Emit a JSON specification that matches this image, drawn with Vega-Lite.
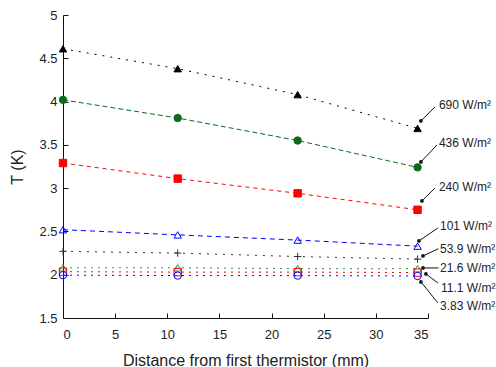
{
 "$schema": "https://vega.github.io/schema/vega-lite/v6.json",
 "width": 365,
 "height": 303,
 "autosize": {"type": "none"},
 "padding": {"left": 63, "top": 15, "right": 68, "bottom": 49},
 "background": "white",
 "config": {
  "view": {"stroke": null},
  "font": "Liberation Sans",
  "axis": {"grid": false, "labelFont": "Liberation Sans", "labelFontSize": 13, "labelColor": "#222", "domainColor": "#111", "tickColor": "#111", "titleFont": "Liberation Sans", "titleFontSize": 16, "titleFontWeight": "normal", "titleColor": "#222", "tickSize": -5}
 },
 "datasets": {
  "pts": [
   {"s": "690", "x": 0, "T": 4.61}, {"s": "690", "x": 11, "T": 4.38}, {"s": "690", "x": 22.5, "T": 4.08}, {"s": "690", "x": 34, "T": 3.69},
   {"s": "436", "x": 0, "T": 4.02}, {"s": "436", "x": 11, "T": 3.81}, {"s": "436", "x": 22.5, "T": 3.55}, {"s": "436", "x": 34, "T": 3.24},
   {"s": "240", "x": 0, "T": 3.29}, {"s": "240", "x": 11, "T": 3.11}, {"s": "240", "x": 22.5, "T": 2.94}, {"s": "240", "x": 34, "T": 2.75},
   {"s": "101", "x": 0, "T": 2.52}, {"s": "101", "x": 11, "T": 2.46}, {"s": "101", "x": 22.5, "T": 2.40}, {"s": "101", "x": 34, "T": 2.33},
   {"s": "53.9", "x": 0, "T": 2.27}, {"s": "53.9", "x": 11, "T": 2.25}, {"s": "53.9", "x": 22.5, "T": 2.21}, {"s": "53.9", "x": 34, "T": 2.18},
   {"s": "21.6", "x": 0, "T": 2.08}, {"s": "21.6", "x": 11, "T": 2.08}, {"s": "21.6", "x": 22.5, "T": 2.07}, {"s": "21.6", "x": 34, "T": 2.07},
   {"s": "11.1", "x": 0, "T": 2.035}, {"s": "11.1", "x": 11, "T": 2.03}, {"s": "11.1", "x": 22.5, "T": 2.03}, {"s": "11.1", "x": 34, "T": 2.025},
   {"s": "3.83", "x": 0, "T": 1.995}, {"s": "3.83", "x": 11, "T": 1.99}, {"s": "3.83", "x": 22.5, "T": 1.99}, {"s": "3.83", "x": 34, "T": 1.985}
  ],
  "ann": [
   {"label": "690 W/m²", "tx": 36.05, "ty": 3.961, "ax": 35.67, "ay": 3.938, "hx": 34.32, "hy": 3.776},
   {"label": "436 W/m²", "tx": 36.05, "ty": 3.522, "ax": 35.86, "ay": 3.499, "hx": 34.32, "hy": 3.303},
   {"label": "240 W/m²", "tx": 36.05, "ty": 3.014, "ax": 35.67, "ay": 3.002, "hx": 34.42, "hy": 2.852},
   {"label": "101 W/m²", "tx": 36.15, "ty": 2.564, "ax": 35.95, "ay": 2.540, "hx": 34.13, "hy": 2.390},
   {"label": "53.9 W/m²", "tx": 36.15, "ty": 2.298, "ax": 36.0, "ay": 2.30, "hx": 34.52, "hy": 2.217},
   {"label": "21.6 W/m²", "tx": 36.15, "ty": 2.078, "ax": 36.0, "ay": 2.078, "hx": 34.52, "hy": 2.078},
   {"label": "11.1 W/m²", "tx": 36.24, "ty": 1.848, "ax": 35.95, "ay": 1.905, "hx": 34.80, "hy": 2.009},
   {"label": "3.83 W/m²", "tx": 36.15, "ty": 1.640, "ax": 35.95, "ay": 1.674, "hx": 34.32, "hy": 1.917}
  ]
 },
 "layer": [
  {
   "data": {"name": "pts"},
   "mark": {"type": "line", "strokeWidth": 1},
   "encoding": {
    "x": {"field": "x", "type": "quantitative", "scale": {"domain": [0, 35], "nice": false, "zero": false},
          "axis": {"title": "Distance from first thermistor (mm)", "values": [0, 5, 10, 15, 20, 25, 30, 35], "labelPadding": 15, "titlePadding": 11}},
    "y": {"field": "T", "type": "quantitative", "scale": {"domain": [1.5, 5], "nice": false, "zero": false},
          "axis": {"title": "T (K)", "values": [1.5, 2, 2.5, 3, 3.5, 4, 4.5, 5], "format": "~g", "labelPadding": 11, "titlePadding": 13}},
    "stroke": {"field": "s", "type": "nominal", "legend": null,
               "scale": {"domain": ["690", "436", "240", "101", "53.9", "21.6", "11.1", "3.83"],
                         "range": ["#000000", "#0b6b1e", "#ff0000", "#0000ff", "#333333", "#3a8f52", "#ff0000", "#0000ff"]}},
    "strokeDash": {"field": "s", "type": "nominal", "legend": null,
               "scale": {"domain": ["690", "436", "240", "101", "53.9", "21.6", "11.1", "3.83"],
                         "range": [[2, 6], [5, 3], [4, 4], [5, 4], [2, 6], [2, 5], [2, 5], [2, 5]]}}
   }
  },
  {
   "data": {"name": "pts"},
   "mark": {"type": "point", "opacity": 1, "strokeWidth": 1, "size": 55},
   "encoding": {
    "x": {"field": "x", "type": "quantitative"},
    "y": {"field": "T", "type": "quantitative"},
    "shape": {"field": "s", "type": "nominal", "legend": null,
              "scale": {"domain": ["690", "436", "240", "101", "53.9", "21.6", "11.1", "3.83"],
                        "range": ["triangle-up", "circle", "square", "triangle-up", "M-1,0L1,0M0,-1L0,1", "triangle-up", "square", "circle"]}},
    "stroke": {"field": "s", "type": "nominal", "legend": null},
    "fill": {"field": "s", "type": "nominal", "legend": null,
             "scale": {"domain": ["690", "436", "240", "101", "53.9", "21.6", "11.1", "3.83"],
                       "range": ["#000000", "#0b6b1e", "#ff0000", "transparent", "transparent", "transparent", "transparent", "transparent"]}}
   }
  },
  {
   "data": {"name": "ann"},
   "mark": {"type": "rule", "stroke": "#111111", "strokeWidth": 1},
   "encoding": {
    "x": {"field": "ax", "type": "quantitative"},
    "y": {"field": "ay", "type": "quantitative"},
    "x2": {"field": "hx"},
    "y2": {"field": "hy"}
   }
  },
  {
   "data": {"name": "ann"},
   "mark": {"type": "point", "shape": "circle", "filled": true, "fill": "#111111", "opacity": 1, "size": 14},
   "encoding": {
    "x": {"field": "hx", "type": "quantitative"},
    "y": {"field": "hy", "type": "quantitative"}
   }
  },
  {
   "data": {"name": "ann"},
   "mark": {"type": "text", "align": "left", "baseline": "middle", "fontSize": 12, "color": "#222", "font": "Liberation Sans"},
   "encoding": {
    "x": {"field": "tx", "type": "quantitative"},
    "y": {"field": "ty", "type": "quantitative"},
    "text": {"field": "label"}
   }
  }
 ]
}
